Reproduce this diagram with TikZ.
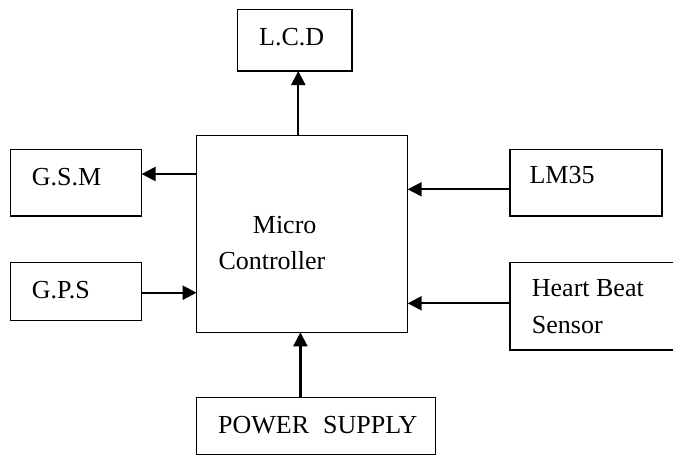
\documentclass[tikz,border=0pt]{standalone}
\usepackage{fontspec}
\setmainfont{Liberation Serif}
\usetikzlibrary{arrows.meta}
\begin{document}
\begin{tikzpicture}[x=1pt,y=-1pt,
  box/.style={draw, line width=1.5pt, rectangle, inner sep=0pt, outer sep=0pt, anchor=north west},
  lbl/.style={anchor=base west, inner sep=0pt, font=\fontsize{26}{30}\selectfont},
  arr/.style={line width=2.2pt, -{Triangle[length=14pt,width=14pt]}}]
\useasboundingbox (0,0) rectangle (673,456);
% boxes
\node[box, minimum width=114.6pt, minimum height=61.7pt] (lcd) at (237.3,9.3) {};
\node[box, minimum width=211.1pt, minimum height=196.6pt] (mc) at (196.6,135.7) {};
\node[box, minimum width=131.3pt, minimum height=66.7pt] (gsm) at (10.3,149.3) {};
\node[box, minimum width=131.3pt, minimum height=58.4pt] (gps) at (10.3,262.3) {};
\node[box, minimum width=151.9pt, minimum height=66.7pt] (lm) at (509.9,149.3) {};
\node[box, minimum width=170pt, minimum height=87.7pt] (hb) at (509.9,262.3) {};
\node[box, minimum width=239pt, minimum height=57.2pt] (ps) at (196.6,397.3) {};
% texts
\node[lbl] (tlcd) at (259,45) {L.C.D};
\node[lbl] (tgsm) at (31.7,185) {G.S.M};
\node[lbl] (tgps) at (31.7,298.3) {G.P.S};
\node[lbl] (tlm) at (529.3,183.3) {LM35};
\node[lbl] (thb1) at (531.7,296.7) {Heart Beat};
\node[lbl] (thb2) at (531.7,333.3) {Sensor};
\node[lbl] (tmc1) at (252.7,233.3) {Micro};
\node[lbl] (tmc2) at (218.3,269.3) {Controller};
\node[lbl] (tps) at (218,433.3) {POWER\hspace{14pt}SUPPLY};
% connector coordinates
\coordinate (xl) at (298.3,0);
\coordinate (xp) at (300.4,0);
\coordinate (yg) at (0,174);
\coordinate (yp) at (0,292.7);
\coordinate (ylm) at (0,189.3);
\coordinate (yhb) at (0,303.3);
% connectors
\draw[arr] (xl |- mc.north) -- (xl |- lcd.south);
\draw[arr] (mc.west |- yg) -- (gsm.east |- yg);
\draw[arr] (gps.east |- yp) -- (mc.west |- yp);
\draw[arr] (lm.west |- ylm) -- (mc.east |- ylm);
\draw[arr] (hb.west |- yhb) -- (mc.east |- yhb);
\draw[arr] (xp |- ps.north) -- (xp |- mc.south);
\end{tikzpicture}
\end{document}
